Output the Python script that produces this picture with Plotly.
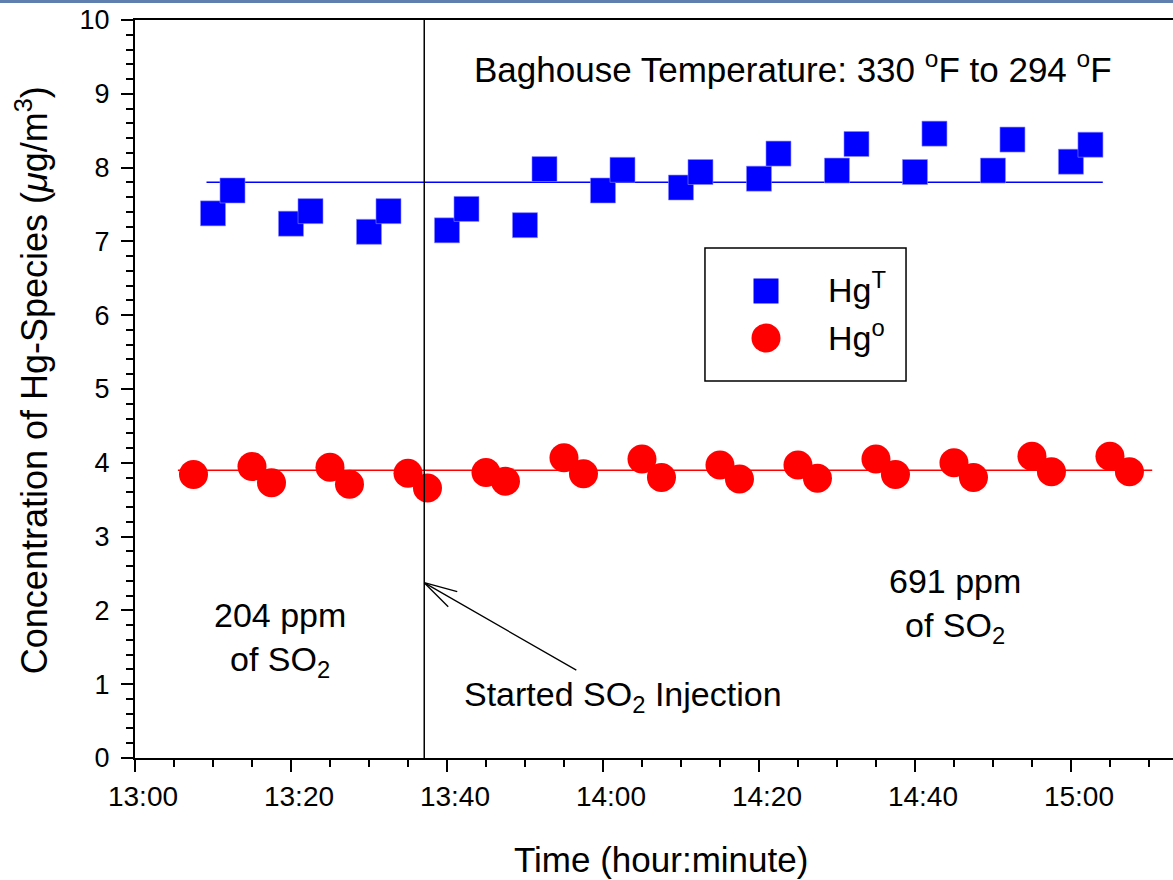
import plotly.graph_objects as go

DAY = "2000-01-01 "

# Total mercury (Hg^T), blue squares
hgt_times = ["13:10:00", "13:12:30", "13:20:00", "13:22:30", "13:30:00", "13:32:30",
             "13:40:00", "13:42:30", "13:50:00", "13:52:30", "14:00:00", "14:02:30",
             "14:10:00", "14:12:30", "14:20:00", "14:22:30", "14:30:00", "14:32:30",
             "14:40:00", "14:42:30", "14:50:00", "14:52:30", "15:00:00", "15:02:30"]
hgt_values = [7.38, 7.69, 7.24, 7.41, 7.13, 7.41, 7.15, 7.44, 7.22, 7.98, 7.69, 7.97,
              7.73, 7.94, 7.85, 8.19, 7.96, 8.32, 7.94, 8.46, 7.96, 8.38, 8.08, 8.31]

# Elemental mercury (Hg^o), red circles
hgo_times = ["13:07:30", "13:15:00", "13:17:30", "13:25:00", "13:27:30", "13:35:00",
             "13:37:30", "13:45:00", "13:47:30", "13:55:00", "13:57:30", "14:05:00",
             "14:07:30", "14:15:00", "14:17:30", "14:25:00", "14:27:30", "14:35:00",
             "14:37:30", "14:45:00", "14:47:30", "14:55:00", "14:57:30", "15:05:00",
             "15:07:30"]
hgo_values = [3.84, 3.95, 3.73, 3.94, 3.71, 3.86, 3.66, 3.87, 3.75, 4.07, 3.85, 4.05,
              3.80, 3.97, 3.78, 3.97, 3.79, 4.05, 3.84, 4.00, 3.80, 4.09, 3.88, 4.09,
              3.88]

# Average lines
hgt_mean_times = ["13:09:10", "15:04:05"]
hgt_mean = [7.80, 7.80]
hgo_mean_times = ["13:05:30", "15:10:25"]
hgo_mean = [3.90, 3.90]

# SO2 injection start
injection_time = "13:37:05"
arrow_tip_value = 2.375
arrow_tail_time = "13:56:35"
arrow_tail_value = 1.19

x_range = ["13:00:00", "15:13:05"]

def t(lst):
    return [DAY + s for s in lst]

FONT = "Liberation Sans, Arial, sans-serif"

fig = go.Figure()
fig.add_trace(go.Scatter(x=t(hgt_mean_times), y=hgt_mean, mode="lines",
                         line=dict(color="#0000ff", width=1.5), showlegend=False, hoverinfo="skip"))
fig.add_trace(go.Scatter(x=t(hgo_mean_times), y=hgo_mean, mode="lines",
                         line=dict(color="#ff0000", width=1.5), showlegend=False, hoverinfo="skip"))
fig.add_trace(go.Scatter(x=t(hgt_times), y=hgt_values, mode="markers", name="Hg<sup>T</sup>",
                         marker=dict(symbol="square", size=25, color="#0000ff",
                                     line=dict(width=0.6, color="#8888ff")), showlegend=False))
fig.add_trace(go.Scatter(x=t(hgo_times), y=hgo_values, mode="markers", name="Hg<sup>o</sup>",
                         marker=dict(symbol="circle", size=29, color="#ff0000",
                                     line=dict(width=0)), showlegend=False))

shapes = []
# vertical injection line
shapes.append(dict(type="line", xref="x", yref="y", x0=DAY + injection_time, x1=DAY + injection_time,
                   y0=0, y1=10, line=dict(color="black", width=1.5)))
# arrowhead wings (pixel offsets from the tip)
for dx, dy in [(33, -9), (24, -24)]:
    shapes.append(dict(type="line", xref="x", yref="y", xsizemode="pixel", ysizemode="pixel",
                       xanchor=DAY + injection_time, yanchor=arrow_tip_value,
                       x0=0, y0=0, x1=dx, y1=dy, line=dict(color="black", width=1.3)))
# slide border at top
shapes.append(dict(type="line", xref="paper", yref="paper", x0=-0.14, x1=1.01,
                   y0=1.0251, y1=1.0251, line=dict(color="#5f7fae", width=3)))
# legend box
shapes.append(dict(type="rect", xref="paper", yref="paper", x0=0.5491, x1=0.7428,
                   y0=0.5108, y1=0.6911, line=dict(color="black", width=1.5), fillcolor="white"))
shapes.append(dict(type="rect", xref="paper", yref="paper", xsizemode="pixel", ysizemode="pixel",
                   xanchor=0.6079, yanchor=0.6328, x0=-12.5, x1=12.5, y0=-12.5, y1=12.5,
                   fillcolor="#0000ff", line=dict(width=0)))
shapes.append(dict(type="circle", xref="paper", yref="paper", xsizemode="pixel", ysizemode="pixel",
                   xanchor=0.6079, yanchor=0.5691, x0=-14.5, x1=14.5, y0=-14.5, y1=14.5,
                   fillcolor="#ff0000", line=dict(width=0)))

annotations = [
    dict(x=DAY + arrow_tail_time, y=arrow_tail_value, xref="x", yref="y",
         ax=DAY + injection_time, ay=arrow_tip_value, axref="x", ayref="y",
         text="", showarrow=True, arrowhead=0, arrowwidth=1.3, arrowcolor="black",
         standoff=0, startstandoff=0),
    dict(x=0.5491 + 0.1166, y=0.637, xref="paper", yref="paper", xanchor="left", yanchor="middle",
         text="Hg<sup>T</sup>", showarrow=False, font=dict(size=34, color="black")),
    dict(x=0.5491 + 0.1166, y=0.572, xref="paper", yref="paper", xanchor="left", yanchor="middle",
         text="Hg<sup>o</sup>", showarrow=False, font=dict(size=34, color="black")),
    dict(x=DAY + "14:24:22", y=9.36, xref="x", yref="y", showarrow=False,
         text="Baghouse Temperature: 330 <sup>o</sup>F to 294 <sup>o</sup>F",
         font=dict(size=35, color="black")),
    dict(x=DAY + "13:18:35", y=1.6, xref="x", yref="y", showarrow=False,
         text="204 ppm<br>of SO<sub>2</sub>", font=dict(size=34, color="black")),
    dict(x=DAY + "14:45:10", y=2.07, xref="x", yref="y", showarrow=False,
         text="691 ppm<br>of SO<sub>2</sub>", font=dict(size=34, color="black")),
    dict(x=DAY + "14:02:35", y=0.83, xref="x", yref="y", showarrow=False,
         text="Started SO<sub>2</sub> Injection", font=dict(size=34, color="black")),
    dict(x=0.5067, y=-0.1382, xref="paper", yref="paper", showarrow=False,
         xanchor="center", yanchor="middle",
         text="Time (hour:minute)", font=dict(size=35, color="black")),
    dict(x=-0.0992, y=0.512, xref="paper", yref="paper", showarrow=False, textangle=-90,
         xanchor="center", yanchor="middle",
         text="Concentration of Hg-Species (<i>μ</i>g/m<sup>3</sup>)", font=dict(size=36, color="black")),
]

fig.update_layout(
    width=1173, height=880,
    margin=dict(l=135, r=0, t=20, b=122),
    paper_bgcolor="white", plot_bgcolor="white",
    font=dict(family=FONT, color="black"),
    shapes=shapes, annotations=annotations,
    showlegend=False,
)
fig.update_xaxes(
    type="date", range=t(x_range), tick0=DAY + "13:00:00", dtick=20 * 60 * 1000,
    tickformat="%H:%M", ticks="outside", ticklen=12, tickwidth=2, tickcolor="black",
    showline=True, linewidth=2, linecolor="black", mirror=True, showgrid=False, zeroline=False,
    tickfont=dict(size=28, family=FONT, color="black"), ticklabelshift=8,
    minor=dict(dtick=5 * 60 * 1000, ticks="outside", ticklen=7, tickwidth=2, tickcolor="black", showgrid=False),
)
fig.update_yaxes(
    range=[0, 10], tick0=0, dtick=1, ticks="outside", ticklen=12, tickwidth=2, tickcolor="black",
    showline=True, linewidth=2, linecolor="black", showgrid=False, zeroline=False,
    tickfont=dict(size=27, family=FONT, color="black"), ticklabelstandoff=6,
    minor=dict(dtick=0.2, ticks="outside", ticklen=7, tickwidth=2, tickcolor="black", showgrid=False),
)

fig.write_html("out.html")
